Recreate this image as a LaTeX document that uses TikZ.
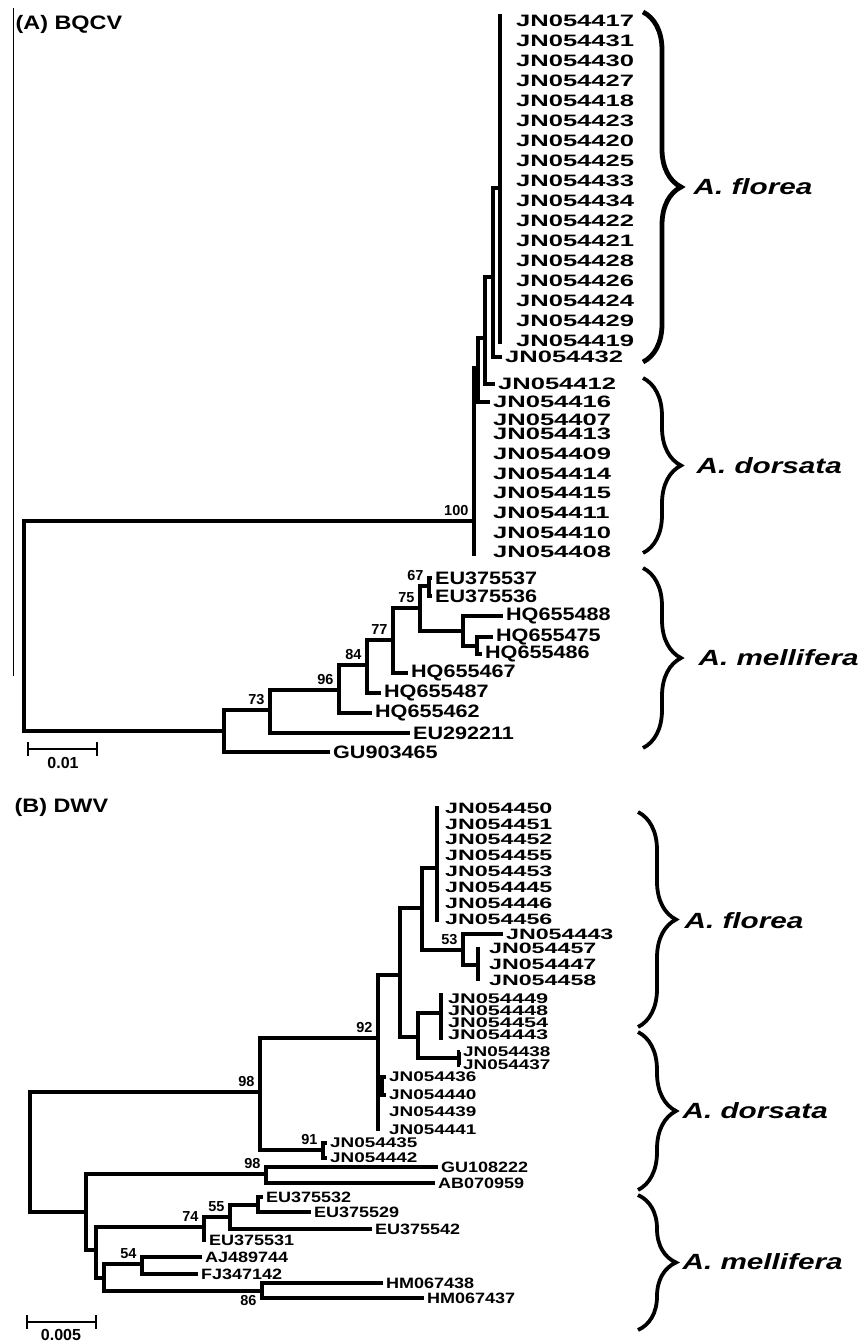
\documentclass[tikz,border=0pt]{standalone}
\usepackage{fontspec}
\setmainfont{Liberation Sans}
\newfontfamily\wideC[FakeStretch=1.55]{Liberation Sans}
\newfontfamily\wideB[FakeStretch=1.35]{Liberation Sans}
\newfontfamily\wideA[FakeStretch=1.2]{Liberation Sans}
\usetikzlibrary{decorations.pathreplacing}

\begin{document}
\begin{tikzpicture}[x=1pt, y=-1pt, line width=3.2pt,
    lfA/.style={anchor=west, inner xsep=1.5pt, inner ysep=0pt, font=\wideC\bfseries\fontsize{16.5}{18}\selectfont},
    lfM/.style={anchor=west, inner xsep=1.5pt, inner ysep=0pt, font=\wideA\bfseries\fontsize{18}{20}\selectfont},
    lfB/.style={anchor=west, inner xsep=1.5pt, inner ysep=0pt, font=\wideC\bfseries\fontsize{15}{16}\selectfont},
    lfC/.style={anchor=west, inner xsep=1.5pt, inner ysep=0pt, font=\wideC\bfseries\fontsize{14}{15}\selectfont},
    lfD/.style={anchor=west, inner xsep=1.5pt, inner ysep=0pt, font=\wideB\bfseries\fontsize{14}{15}\selectfont},
    lfN/.style={anchor=west, inner xsep=1.5pt, inner ysep=0pt, font=\wideA\bfseries\fontsize{15}{16}\selectfont},
    boot/.style={anchor=south east, inner sep=0pt, xshift=-4pt, yshift=4pt, font=\bfseries\fontsize{14.5}{15}\selectfont},
    clade/.style={anchor=west, inner sep=0pt, font=\wideB\bfseries\itshape\fontsize{22}{24}\selectfont},
    panel/.style={anchor=west, inner sep=0pt, font=\wideA\bfseries\fontsize{19.5}{21}\selectfont},
    scalelab/.style={inner sep=0pt, font=\bfseries\fontsize{16}{17}\selectfont},
    grp/.style={decorate, decoration={brace, amplitude=38pt}, line width=3.8pt}
]

% Page frame (pixels of the figure)
\useasboundingbox (0,0) rectangle (863,1343);
\draw[line width=0.8pt] (13,8) -- (13,676);

% ---------------- (A) BQCV ----------------
\node[panel] (titA) at (14,24) {(A) BQCV};

% Internal nodes
\coordinate (rA) at (24,626);
\coordinate (a100) at (474,521);
\coordinate (a100e) at (474,556);
\coordinate (a1) at (478,368);
\coordinate (a2) at (485,338);
\coordinate (a3) at (493,277);
\coordinate (a4) at (500,188);
\coordinate (a4t) at (500,14);
\coordinate (a4b) at (500,344);
\coordinate (am) at (224,731);
\coordinate (a73) at (270,710);
\coordinate (a96) at (339,690);
\coordinate (a84) at (367,665);
\coordinate (a77) at (393,640);
\coordinate (a75) at (420,608);
\coordinate (a67) at (429,586);
\coordinate (ahq) at (463,631);
\coordinate (ahq2) at (477,646);

% Leaves, A. florea
\foreach \lab [count=\i from 0] in {JN054417,JN054431,JN054430,JN054427,JN054418,JN054423,JN054420,JN054425,JN054433,JN054434,JN054422,JN054421,JN054428,JN054426,JN054424,JN054429,JN054419}
    \node[lfA] (fa\i) at (513,21+20*\i) {\lab};
\node[lfA] (fa32) at (502,357) {JN054432};

% Leaves, A. dorsata
\node[lfA] (da12) at (495,384) {JN054412};
\node[lfA] (da16) at (490,402) {JN054416};
\foreach \lab/\y in {JN054407/420,JN054413/434,JN054409/454,JN054414/474,JN054415/493,JN054411/513,JN054410/533,JN054408/552}
    \node[lfA] (d\lab) at (490,\y) {\lab};

% Leaves, A. mellifera
\node[lfM] (e37) at (432,578) {EU375537};
\node[lfM] (e36) at (432,596) {EU375536};
\node[lfM] (h88) at (503,616) {HQ655488};
\node[lfM] (h75) at (493,637) {HQ655475};
\node[lfM] (h86) at (482,654) {HQ655486};
\node[lfM] (h67) at (408,673) {HQ655467};
\node[lfM] (h87) at (381,693) {HQ655487};
\node[lfM] (h62) at (372,713) {HQ655462};
\node[lfM] (e11) at (410,733) {EU292211};
\node[lfM] (g65) at (330,752) {GU903465};

% Branches
\draw (rA) |- (a100) (rA) |- (am);
\draw (a100) |- (a1) (a100) -- (a100e);
\draw (a1) |- (a2) (a1) |- (da16.west);
\draw (a2) |- (a3) (a2) |- (da12.west);
\draw (a3) |- (a4) (a3) |- (fa32.west);
\draw (a4t) -- (a4b);
\draw (am) |- (a73) (am) |- (g65.west);
\draw (a73) |- (a96) (a73) |- (e11.west);
\draw (a96) |- (a84) (a96) |- (h62.west);
\draw (a84) |- (a77) (a84) |- (h87.west);
\draw (a77) |- (a75) (a77) |- (h67.west);
\draw (a75) |- (a67) (a75) |- (ahq);
\draw (a67) |- (e37.west) (a67) |- (e36.west);
\draw (ahq) |- (h88.west) (ahq) |- (ahq2);
\draw (ahq2) |- (h75.west) (ahq2) |- (h86.west);

% Bootstrap values
\node[boot] (v100) at (a100) {100};
\node[boot] (v67) at (a67) {67};
\node[boot] (v75) at (a75) {75};
\node[boot] (v77) at (a77) {77};
\node[boot] (v84) at (a84) {84};
\node[boot] (v96) at (a96) {96};
\node[boot] (v73) at (a73) {73};

% Scale bar
\coordinate (sA1) at (28,749);
\coordinate (sA2) at (97,749);
\draw[line width=2.5pt] (sA1) -- (sA2) (28,742) -- (28,756) (97,742) -- (97,756);
\node[scalelab] (sAl) at (63,763) {0.01};

% Species braces
\draw[grp, line width=4.8pt] (643,12) -- (643,362);
\node[clade] (cAf) at (692,187) {A. florea};
\draw[grp] (643,378) -- (643,553);
\node[clade] (cAd) at (695,466) {A. dorsata};
\draw[grp] (643,568) -- (643,748);
\node[clade] (cAm) at (697,658) {A. mellifera};

% ---------------- (B) DWV ----------------
\node[panel] (titB) at (13,807) {(B) DWV};

% Internal nodes
\coordinate (rB) at (30,1152);
\coordinate (b98) at (260,1092);
\coordinate (b91) at (323,1150);
\coordinate (b92) at (378,1038);
\coordinate (b92e) at (378,1131);
\coordinate (bs) at (382,1086);
\coordinate (ba) at (400,975);
\coordinate (bb) at (422,908);
\coordinate (bf) at (437,868);
\coordinate (bft) at (437,806);
\coordinate (bfb) at (437,922);
\coordinate (b53) at (463,950);
\coordinate (bg) at (478,965);
\coordinate (bgt) at (478,947);
\coordinate (bgb) at (478,981);
\coordinate (bc) at (418,1037);
\coordinate (bh) at (441,1013);
\coordinate (bht) at (441,993);
\coordinate (bhb) at (441,1040);
\coordinate (bi) at (459,1058);
\coordinate (bm) at (86,1212);
\coordinate (b98m) at (266,1174);
\coordinate (bn) at (96,1250);
\coordinate (b74) at (204,1227);
\coordinate (b55) at (230,1217);
\coordinate (bp) at (258,1205);
\coordinate (bo) at (104,1278);
\coordinate (b54) at (142,1264);
\coordinate (b86) at (262,1291);

% Leaves, A. florea
\foreach \lab [count=\i from 0] in {JN054450,JN054451,JN054452,JN054455,JN054453,JN054445,JN054446,JN054456}
    \node[lfB] (fb\i) at (442,808+15.9*\i) {\lab};
\node[lfB] (k43) at (503,934) {JN054443};
\node[lfB] (k57) at (486,948) {JN054457};
\node[lfB] (k47) at (486,964) {JN054447};
\node[lfB] (k58) at (486,980) {JN054458};
\foreach \lab/\y in {JN054449/999,JN054448/1011,JN054454/1023,JN054443/1035}
    \node[lfC] (q\lab) at (445,\y) {\lab};

% Leaves, A. dorsata
\node[lfD] (x38) at (460,1052) {JN054438};
\node[lfD] (x37) at (460,1065) {JN054437};
\node[lfD] (x36) at (386,1077) {JN054436};
\node[lfD] (x40) at (386,1095) {JN054440};
\node[lfD] (x39) at (386,1112) {JN054439};
\node[lfD] (x41) at (386,1130) {JN054441};
\node[lfD] (x35) at (327,1143) {JN054435};
\node[lfD] (x42) at (327,1158) {JN054442};

% Leaves, A. mellifera
\node[lfN] (gu) at (438,1167) {GU108222};
\node[lfN] (ab) at (435,1183) {AB070959};
\node[lfN] (e32) at (263,1197) {EU375532};
\node[lfN] (e29) at (311,1212) {EU375529};
\node[lfN] (e42) at (372,1229) {EU375542};
\node[lfN] (e31) at (206,1240) {EU375531};
\node[lfN] (aj) at (202,1257) {AJ489744};
\node[lfN] (fj) at (198,1274) {FJ347142};
\node[lfN] (hm38) at (383,1283) {HM067438};
\node[lfN] (hm37) at (424,1298) {HM067437};

% Branches
\draw (rB) |- (b98) (rB) |- (bm);
\draw (b98) |- (b92) (b98) |- (b91);
\draw (b91) |- (x35.west) (b91) |- (x42.west);
\draw (b92) |- (ba) (b92) |- (bs) (b92) -- (b92e);
\draw (bs) |- (x36.west) (bs) |- (x40.west);
\draw (ba) |- (bb) (ba) |- (bc);
\draw (bb) |- (bf) (bb) |- (b53);
\draw (bft) -- (bfb);
\draw (b53) |- (k43.west) (b53) |- (bg);
\draw (bgt) -- (bgb);
\draw (bc) |- (bh) (bc) |- (bi);
\draw (bht) -- (bhb);
\draw (bi) |- (x38.west) (bi) |- (x37.west);
\draw (bm) |- (b98m) (bm) |- (bn);
\draw (b98m) |- (gu.west) (b98m) |- (ab.west);
\draw (bn) |- (b74) (bn) |- (bo);
\draw (b74) |- (b55) (b74) |- (e31.west);
\draw (b55) |- (bp) (b55) |- (e42.west);
\draw (bp) |- (e32.west) (bp) |- (e29.west);
\draw (bo) |- (b54) (bo) |- (b86);
\draw (b54) |- (aj.west) (b54) |- (fj.west);
\draw (b86) |- (hm38.west) (b86) |- (hm37.west);

% Bootstrap values
\node[boot] (w98) at (b98) {98};
\node[boot] (w92) at (b92) {92};
\node[boot] (w91) at (b91) {91};
\node[boot] (w53) at (b53) {53};
\node[boot] (w98m) at (b98m) {98};
\node[boot] (w74) at (b74) {74};
\node[boot] (w55) at (b55) {55};
\node[boot] (w54) at (b54) {54};
\node[boot, anchor=north east, yshift=-7pt] (w86) at (b86) {86};

% Scale bar
\coordinate (sB1) at (27,1322);
\coordinate (sB2) at (96,1322);
\draw[line width=2.5pt] (sB1) -- (sB2) (27,1315) -- (27,1329) (96,1315) -- (96,1329);
\node[scalelab] (sBl) at (61,1335) {0.005};

% Species braces
\draw[grp] (638,812) -- (638,1027);
\node[clade] (cBf) at (683,921) {A. florea};
\draw[grp] (638,1032) -- (638,1190);
\node[clade] (cBd) at (681,1111) {A. dorsata};
\draw[grp] (638,1195) -- (638,1330);
\node[clade] (cBm) at (681,1262) {A. mellifera};

\end{tikzpicture}
\end{document}
